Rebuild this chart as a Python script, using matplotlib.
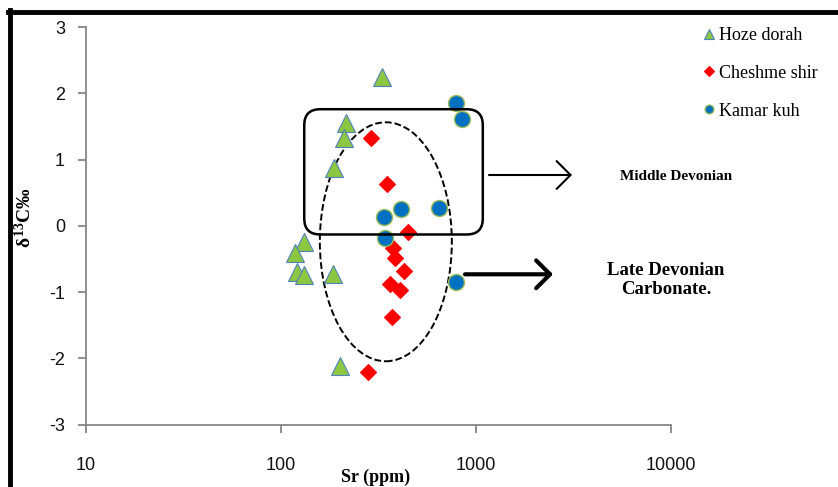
import matplotlib
matplotlib.use("Agg")
import matplotlib.pyplot as plt
import numpy as np
from matplotlib.patches import Ellipse, FancyBboxPatch
from matplotlib.lines import Line2D
from matplotlib.transforms import IdentityTransform

# Hoze dorah (triangles)
hoze_sr = [330, 215, 212, 187, 131, 118, 121, 132, 186, 202]
hoze_c13 = [2.25, 1.55, 1.33, 0.87, -0.25, -0.41, -0.69, -0.74, -0.73, -2.11]

# Cheshme shir (diamonds)
chesh_sr = [290, 350, 451, 378, 385, 430, 363, 409, 373, 279]
chesh_c13 = [1.32, 0.63, -0.10, -0.34, -0.48, -0.68, -0.88, -0.96, -1.38, -2.21]

# Kamar kuh (circles)
kamar_sr = [789, 851, 339, 412, 649, 343, 789]
kamar_c13 = [1.86, 1.61, 0.14, 0.25, 0.27, -0.19, -0.84]

xticks = [10, 100, 1000, 10000]
yticks = [-3, -2, -1, 0, 1, 2, 3]

serif = "Liberation Serif"
sans = "Liberation Sans"
grey = "#868686"

plt.rcParams["mathtext.fontset"] = "custom"
plt.rcParams["mathtext.rm"] = "Liberation Serif:bold"
plt.rcParams["mathtext.it"] = "Liberation Serif:bold"
plt.rcParams["mathtext.bf"] = "Liberation Serif:bold"

fig = plt.figure(figsize=(8.38, 4.87), dpi=100)
ax = fig.add_axes([0.1023, 0.1279, 0.6981, 0.8166])

ax.plot(hoze_sr, hoze_c13, ls="none", marker="^", ms=13, mfc="#8DC641",
        mec="#4F81BD", mew=0.8, label="Hoze dorah", zorder=3)
ax.plot(chesh_sr, chesh_c13, ls="none", marker="D", ms=8.5, mfc="#FF0000",
        mec="#FF0000", mew=0.8, label="Cheshme shir", zorder=3)
ax.plot(kamar_sr, kamar_c13, ls="none", marker="o", ms=11.5, mfc="#0070C0",
        mec="#9BBB59", mew=1.0, label="Kamar kuh", zorder=3)

ax.set_xscale("log")
ax.set_xlim(10, 10000)
ax.set_ylim(-3, 3)
ax.set_xticks(xticks)
ax.set_xticklabels([str(t) for t in xticks])
ax.set_yticks(yticks)
ax.set_yticklabels([str(t) for t in yticks])
ax.minorticks_off()
for s in ["top", "right"]:
    ax.spines[s].set_visible(False)
for s in ["left", "bottom"]:
    ax.spines[s].set_color(grey)
    ax.spines[s].set_linewidth(1.3)
ax.tick_params(axis="both", direction="out", length=6, width=1.3, color=grey,
               labelsize=13, labelcolor="#111111")
ax.tick_params(axis="x", pad=17)
ax.tick_params(axis="y", pad=9)
for lab in ax.get_xticklabels() + ax.get_yticklabels():
    lab.set_fontfamily(sans)

# rounded box around Middle Devonian group (data coords -> pixels)
p0 = ax.transData.transform((132, -0.13))
p1 = ax.transData.transform((1087, 1.76))
box = FancyBboxPatch((p0[0], p0[1]), p1[0] - p0[0], p1[1] - p0[1],
                     boxstyle="round,pad=0,rounding_size=16",
                     fill=False, ec="black", lw=1.8,
                     transform=IdentityTransform(), zorder=2)
fig.add_artist(box)

# dashed ellipse
ell = Ellipse((0.513, 0.46), 0.2256, 0.601, transform=ax.transAxes,
              fill=False, ec="black", lw=1.4, ls=(0, (3.5, 1.5)), zorder=2)
ax.add_patch(ell)

# arrows
ax.annotate("", xy=(572, 312), xytext=(489, 312), xycoords="figure pixels",
            textcoords="figure pixels",
            arrowprops=dict(arrowstyle="->,head_length=0.5,head_width=0.5",
                            lw=1.5, color="black", mutation_scale=20,
                            shrinkA=0, shrinkB=0))
ax.annotate("", xy=(553, 212.7), xytext=(465, 212.7), xycoords="figure pixels",
            textcoords="figure pixels",
            arrowprops=dict(arrowstyle="->,head_length=0.5,head_width=0.5",
                            lw=3, color="black", mutation_scale=20,
                            shrinkA=0, shrinkB=0))

fig.text(620 / 838, 1 - 177 / 487, "Middle Devonian", family=serif,
         weight="bold", fontsize=11, ha="left", va="center")
fig.text(666 / 838, 1 - 280 / 487, "Late Devonian\nCarbonate.", family=serif,
         weight="bold", fontsize=13.5, ha="center", va="center",
         linespacing=1.2)

# axis labels
fig.text(376 / 838, 1 - 477 / 487, "Sr (ppm)", family=serif, weight="bold",
         fontsize=13, ha="center", va="center")
fig.text(25 / 838, 1 - 218 / 487, r"$\delta^{13}$C‰", family=serif,
         weight="bold", fontsize=14, ha="center", va="center", rotation=90)

ax.legend(loc="upper left", bbox_to_anchor=(702 / 838, 1 - 27 / 487),
          bbox_transform=fig.transFigure, frameon=False,
          prop={"family": serif, "size": 13}, handletextpad=0.15,
          labelspacing=1.15, markerscale=0.55, handlelength=0.8,
          borderpad=0, borderaxespad=0)

# frame lines at top and left
fig.add_artist(Line2D([10 / 838, 10 / 838], [0, 1 - 10 / 487], color="black",
                      lw=3.5, transform=fig.transFigure))
fig.add_artist(Line2D([8 / 838, 1], [1 - 12 / 487, 1 - 12 / 487],
                      color="black", lw=3.5, transform=fig.transFigure))

fig.savefig("out.png", dpi=100)
